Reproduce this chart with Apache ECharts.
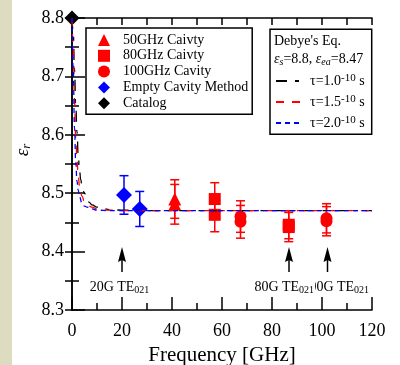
<!DOCTYPE html>
<html><head><meta charset="utf-8">
<script src="https://cdn.jsdelivr.net/npm/echarts@6/dist/echarts.min.js"></script>
<style>html,body{margin:0;padding:0;background:#fff}#c{width:400px;height:365px}</style>
</head><body><div id="c"></div>
<script>
// ---- data ----
const catalogFreq = [0];
const catalogEps = [8.8];
const emptyFreq = [20.8, 27.1];
const emptyEps = [8.497, 8.473];
const emptyErr = [0.033, 0.030];
const c50Freq = [41.1, 41.1];
const c50Eps = [8.490, 8.481];
const c50Err = [0.033, 0.034];
const c80Freq = [57.1, 57.1, 86.7, 86.7];
const c80Eps = [8.490, 8.463, 8.446, 8.442];
const c80Err = [0.028, 0.029, 0.024, 0.025];
const c100Freq = [67.4, 67.4, 101.8, 101.8];
const c100Eps = [8.460, 8.451, 8.457, 8.452];
const c100Err = [0.027, 0.028, 0.025, 0.025];

const tau10Freq = [0,0.5,1,1.5,2,2.5,3,3.5,4,5,6,7,8,10,12,15,20,30,120];
const tau10Eps  = [8.800,8.775,8.712,8.650,8.605,8.565,8.540,8.523,8.512,8.500,8.490,8.484,8.480,8.476,8.474,8.472,8.471,8.470,8.470];
const tau15Freq = [0,0.5,1,1.5,2,2.5,3,4,5,6,8,10,15,20,120];
const tau15Eps  = [8.800,8.750,8.660,8.595,8.555,8.530,8.512,8.495,8.485,8.480,8.476,8.473,8.471,8.470,8.470];
const tau20Freq = [0,0.5,1,1.5,2,2.5,3,4,5,6,8,10,15,120];
const tau20Eps  = [8.800,8.712,8.612,8.553,8.520,8.505,8.494,8.483,8.478,8.476,8.473,8.471,8.470,8.470];
const tauLabels = ['1.0', '1.5', '2.0'];

const arrowFreq = [20, 86.8, 102.2];
const arrowTip = 8.408;
const arrowTail = 8.365;
const modeLabels = ['20G', '80G', '100G'];
const modeLabelFreq = [19.2, 85.1, 105.7];
const modeLabelEps = 8.339;

const seriesNames = ['50GHz Caivty', '80GHz Caivty', '100GHz Cavity', 'Empty Cavity Method', 'Catalog'];

// ---- helpers ----
const FONT = 'Liberation Serif';
const zip = (a, b, c) => a.map((v, i) => c ? [v, b[i], c[i]] : [v, b[i]]);
function errBars(color) {
  return function (params, api) {
    const x = api.value(0), y = api.value(1), e = api.value(2);
    const t = api.coord([x, y + e]), b = api.coord([x, y - e]);
    const hw = 4.5, st = { stroke: color, lineWidth: 1.5 };
    return { type: 'group', children: [
      { type: 'line', shape: { x1: t[0], y1: t[1], x2: b[0], y2: b[1] }, style: st },
      { type: 'line', shape: { x1: t[0] - hw, y1: t[1], x2: t[0] + hw, y2: t[1] }, style: st },
      { type: 'line', shape: { x1: b[0] - hw, y1: b[1], x2: b[0] + hw, y2: b[1] }, style: st }
    ]};
  };
}
function errSeries(f, e, err, color) {
  return { type: 'custom', renderItem: errBars(color), data: zip(f, e, err), z: 3, silent: true };
}
function scatter(name, f, e, symbol, size, color) {
  return { type: 'scatter', name, data: zip(f, e), symbol, symbolSize: size,
    itemStyle: { color, opacity: 1 }, z: 4 };
}
function curve(name, f, e, color, dash) {
  return { type: 'line', name, data: zip(f, e), symbol: 'none', smooth: true, smoothMonotone: 'x',
    lineStyle: { color, width: 1.3, type: dash }, itemStyle: { color }, z: 5, clip: true };
}
const tauNames = tauLabels.map(t => 'τ=' + t + '-10 s');

const chart = echarts.init(document.getElementById('c'));
const option = {
  backgroundColor: '#fff',
  animation: false,
  grid: { left: 72, right: 28, top: 18, bottom: 55, outerBoundsMode: 'none', containLabel: false },
  xAxis: [
    { type: 'value', position: 'bottom', min: 0, max: 120, interval: 20,
      axisLine: { show: true, lineStyle: { color: '#000', width: 1.5 } },
      axisTick: { inside: true, length: 13, lineStyle: { color: '#000', width: 1.5 } },
      minorTick: { show: true, splitNumber: 2, length: 7, lineStyle: { color: '#000', width: 1.5 } },
      axisLabel: { color: '#000', fontFamily: FONT, fontSize: 18, margin: 12 },
      splitLine: { show: false },
      name: 'Frequency [GHz]', nameLocation: 'middle', nameGap: 26,
      nameTextStyle: { color: '#000', fontFamily: FONT, fontSize: 21 } },
    { type: 'value', position: 'top', min: 0, max: 120, interval: 10,
      axisLine: { show: true, lineStyle: { color: '#000', width: 1.5 } },
      axisTick: { inside: true, length: 7, lineStyle: { color: '#000', width: 1.5 } },
      axisLabel: { show: false }, splitLine: { show: false } }
  ],
  yAxis: [
    { type: 'value', position: 'left', min: 8.3, max: 8.8, interval: 0.1,
      axisLine: { show: true, lineStyle: { color: '#000', width: 1.5 } },
      axisTick: { inside: true, length: 13, lineStyle: { color: '#000', width: 1.5 } },
      minorTick: { show: true, splitNumber: 2, length: 7, lineStyle: { color: '#000', width: 1.5 } },
      axisLabel: { color: '#000', fontFamily: FONT, fontSize: 18, margin: 8, formatter: v => v.toFixed(1) },
      splitLine: { show: false } },
    { type: 'value', position: 'right', min: 8.3, max: 8.8, interval: 0.05,
      axisLine: { show: true, lineStyle: { color: '#000', width: 1.5 } },
      axisTick: { inside: true, length: 7, lineStyle: { color: '#000', width: 1.5 } },
      axisLabel: { show: false }, splitLine: { show: false } }
  ],
  legend: [
    { data: seriesNames, orient: 'vertical', left: 86, top: 28, padding: [5, 4, 4, 12],
      itemGap: 1.8, itemWidth: 12, itemHeight: 12, selectedMode: false,
      borderColor: '#000', borderWidth: 1.5, borderRadius: 0, backgroundColor: '#fff',
      textStyle: { fontFamily: FONT, fontSize: 14, color: '#000', lineHeight: 14, padding: [0, 0, 0, 8] } },
    { data: tauNames.map(n => ({ name: n, itemStyle: { opacity: 0 } })),
      orient: 'vertical', left: 270, top: 73, padding: [0, 0, 0, 5],
      itemGap: 6, itemWidth: 27, itemHeight: 14, selectedMode: false,
      itemStyle: { opacity: 0 },
      formatter: n => { const t = tauLabels[tauNames.indexOf(n)]; return '{a|τ=' + t + '}{p|-10}{a| s}'; },
      textStyle: { fontFamily: FONT, fontSize: 14, color: '#000', padding: [0, 0, 0, 2],
        rich: { a: { fontFamily: FONT, fontSize: 14, lineHeight: 16, color: '#000' },
                p: { fontFamily: FONT, fontSize: 11, lineHeight: 4, verticalAlign: 'top', color: '#000' } } } }
  ],
  graphic: [
    { type: 'rect', left: 0, top: 0, shape: { width: 12, height: 365 }, style: { fill: '#dddcc1' }, silent: true },
    { type: 'rect', x: 270, y: 29.3, shape: { width: 101.7, height: 105 },
      style: { fill: 'rgba(0,0,0,0)', stroke: '#000', lineWidth: 1.5 }, z: 10, silent: true },
    { type: 'text', x: 274, y: 41, z: 10, style: { text: "Debye's Eq.", fontFamily: FONT, fontSize: 14,
      fill: '#000', verticalAlign: 'middle', align: 'left' } },
    { type: 'text', x: 274, y: 59, z: 10, style: {
      text: '{e|ε}{s|s}{t|=8.8, }{e|ε}{s|ea}{t|=8.47}', verticalAlign: 'middle', align: 'left',
      rich: { e: { fontFamily: FONT, fontSize: 14, fontStyle: 'italic', lineHeight: 16, fill: '#000' },
              t: { fontFamily: FONT, fontSize: 14, lineHeight: 16, fill: '#000' },
              s: { fontFamily: FONT, fontSize: 10, fontStyle: 'italic', lineHeight: 8, verticalAlign: 'bottom', fill: '#000' } } } },
    { type: 'text', x: 23, y: 150, rotation: Math.PI / 2, z: 10, style: {
      text: '{e|ε}{s|r}', verticalAlign: 'middle', align: 'center',
      rich: { e: { fontFamily: FONT, fontSize: 19, fontStyle: 'italic', lineHeight: 20, fill: '#000' },
              s: { fontFamily: FONT, fontSize: 13, fontStyle: 'italic', lineHeight: 10, verticalAlign: 'bottom', fill: '#000' } } } }
  ],
  series: [
    curve(tauNames[0], tau10Freq, tau10Eps, '#000', [11, 8, 4, 8]),
    curve(tauNames[1], tau15Freq, tau15Eps, '#ff0000', [8, 8]),
    curve(tauNames[2], tau20Freq, tau20Eps, '#0000ff', [5, 4]),
    errSeries(emptyFreq, emptyEps, emptyErr, '#0000ff'),
    errSeries(c50Freq, c50Eps, c50Err, '#ff0000'),
    errSeries(c80Freq, c80Eps, c80Err, '#ff0000'),
    errSeries(c100Freq, c100Eps, c100Err, '#ff0000'),
    scatter(seriesNames[0], c50Freq, c50Eps, 'triangle', 13, '#ff0000'),
    scatter(seriesNames[1], c80Freq, c80Eps, 'rect', 12, '#ff0000'),
    scatter(seriesNames[2], c100Freq, c100Eps, 'circle', 12, '#ff0000'),
    scatter(seriesNames[3], emptyFreq, emptyEps, 'diamond', 16, '#0000ff'),
    scatter(seriesNames[4], catalogFreq, catalogEps, 'diamond', 15, '#000000'),
    { type: 'custom', silent: true, z: 6,
      data: arrowFreq.map((f, i) => [f, arrowTip, arrowTail, modeLabelFreq[i], modeLabelEps, i]),
      renderItem: function (params, api) {
        const x = api.value(0);
        const tip = api.coord([x, api.value(1)]), tail = api.coord([x, api.value(2)]);
        const lp = api.coord([api.value(3), api.value(4)]);
        const i = api.value(5);
        return { type: 'group', children: [
          { type: 'line', shape: { x1: tip[0], y1: tip[1] + 10, x2: tail[0], y2: tail[1] }, style: { stroke: '#000', lineWidth: 1.5 } },
          { type: 'polygon', shape: { points: [[tip[0], tip[1]], [tip[0] + 4, tip[1] + 15], [tip[0], tip[1] + 13], [tip[0] - 4, tip[1] + 15]] }, style: { fill: '#000' } },
          { type: 'text', x: lp[0], y: lp[1], z2: i === 1 ? 20 : 10, style: {
            text: '{a|' + modeLabels[i] + ' TE}{s|021}', align: 'center', verticalAlign: 'middle',
            backgroundColor: i === 1 ? '#fff' : 'transparent', padding: [0, 1, 0, 0],
            rich: { a: { fontFamily: FONT, fontSize: 14, lineHeight: 16, fill: '#000' },
                    s: { fontFamily: FONT, fontSize: 10, lineHeight: 8, verticalAlign: 'bottom', fill: '#000' } } } }
        ]};
      } }
  ]
};
chart.setOption(option);
</script>
</body></html>
